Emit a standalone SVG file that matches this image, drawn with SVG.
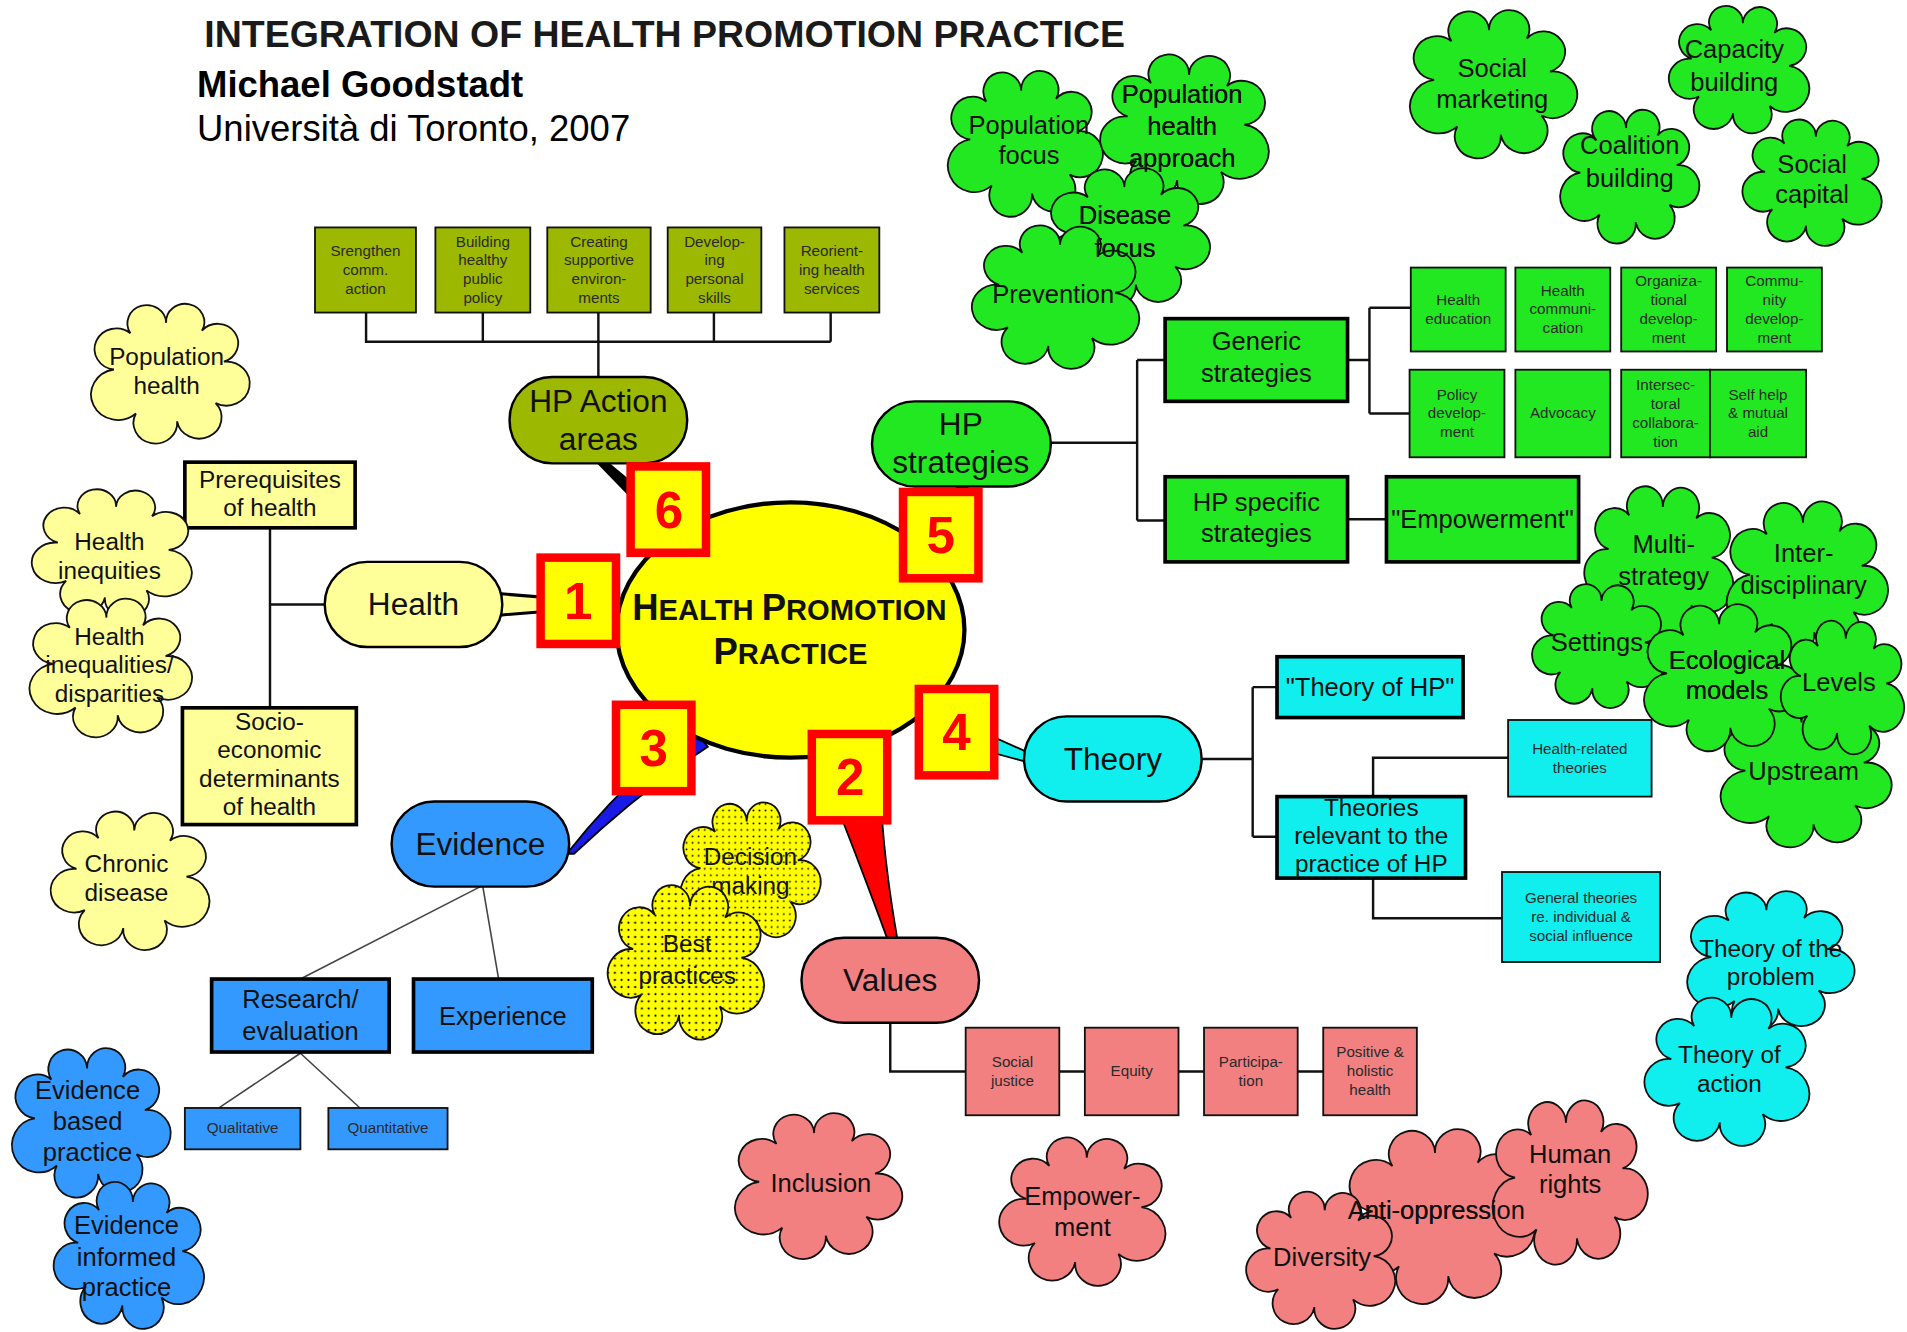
<svg xmlns="http://www.w3.org/2000/svg" xmlns:xlink="http://www.w3.org/1999/xlink" width="1907" height="1332" viewBox="0 0 1907 1332">
<style>
  .t{font-family:"Liberation Sans",Arial,Helvetica,sans-serif;text-anchor:middle;fill:#111}
  .f26{font-size:26px}
  .f21{font-size:21px}
  .f20{font-size:20px}
  .f12{font-size:12.5px;fill:#2a2a2a}
  .node{stroke:#000;stroke-width:2}
  .box{stroke:#000;stroke-width:3}
  .sbox{stroke:#111;stroke-width:1.5}
  .cloud{stroke:#111;stroke-width:1.8}
  .yel{fill:#ffff00}
  .pale{fill:#ffff99}
  .olive{fill:#9cb800}
  .grn{fill:#22e822}
  .cyan{fill:#11eeee}
  .blue{fill:#3399ff}
  .pink{fill:#f28080}
  .dots{fill:url(#dots)}
  .ln{fill:none;stroke:#111;stroke-width:2}
  .ln-thin{fill:none;stroke:#444;stroke-width:1.3}
  .numbox{fill:#ffff00;stroke:#ff0000;stroke-width:7}
  .num{font-family:"Liberation Sans",Arial,sans-serif;font-weight:bold;font-size:42px;fill:#ff0000;text-anchor:middle}
</style>
<defs>
  <!-- irregular cloud outline, about 115 x 108 units around the origin -->
  <path id="cloud" vector-effect="non-scaling-stroke" d="M -41 -3 A 15.9 15.9 0 1 1 -29 -31 A 14.1 14.1 0 1 1 -3 -39 A 13.9 13.9 0 1 1 23 -33 A 15 15 0 1 1 39 -9 A 17 17 0 1 1 33 23 A 16.3 16.3 0 1 1 5 37 A 15.9 15.9 0 1 1 -25 31 A 19.6 19.6 0 1 1 -41 -3 Z"/>
  <pattern id="dots" patternUnits="userSpaceOnUse" width="5" height="5">
    <rect width="5" height="5" fill="#ffff00"/>
    <circle cx="2.5" cy="2.5" r="0.75" fill="#000"/>
  </pattern>
</defs>
<rect width="1907" height="1332" fill="#ffffff"/>
<g transform="scale(1.2162)">

<!-- heading -->
<g id="heading">
  <text x="168" y="39" font-family="Liberation Sans,Arial,sans-serif" font-weight="bold" font-size="30" fill="#1a1a1a" textLength="757" lengthAdjust="spacingAndGlyphs">INTEGRATION OF HEALTH PROMOTION PRACTICE</text>
  <text x="162" y="80" font-family="Liberation Sans,Arial,sans-serif" font-weight="bold" font-size="30" fill="#000">Michael Goodstadt</text>
  <text x="162" y="116" font-family="Liberation Sans,Arial,sans-serif" font-size="30" fill="#000">Università di Toronto, 2007</text>
</g>

<!-- connectors -->
<g id="connectors">
  <!-- tapered links from the centre -->
  <path d="M 410 488 Q 460 493 540 494 L 540 500 Q 460 501 410 506 Z" fill="#ffff99" stroke="#000" stroke-width="2.5"/>
  <path d="M 488 378 L 498 378 L 560 430 L 548 440 Z" fill="#000"/>
  <path d="M 786 398 L 796 398 L 800 440 L 785 440 Z" fill="#000"/>
  <path d="M 770 585 L 846 619 L 846 627 L 765 605 Z" fill="#11eeee" stroke="#000" stroke-width="1.5"/>
  <path d="M 683 650 Q 705 705 730 773 L 738 773 Q 726 705 724 650 Z" fill="#ff0000" stroke="#000" stroke-width="1.5"/>
  <path d="M 570 600 Q 515 640 466 702 L 472 702 Q 525 652 582 614 Z" fill="#1a1ae6" stroke="#000" stroke-width="1.5"/>
  <!-- action areas tree -->
  <path class="ln" d="M 301 257 V 281 H 683 M 397 257 V 281 M 492 257 V 310 M 587 257 V 281 M 683 257 V 281"/>
  <!-- health tree -->
  <path class="ln" d="M 222 434 V 582 M 222 497 H 267"/>
  <!-- strategies tree -->
  <path class="ln" stroke-width="2.5" d="M 864 364 H 935 M 935 296 V 428 M 935 296 H 958 M 935 428 H 958 M 1108 427 H 1140"/>
  <path class="ln" stroke-width="2.5" d="M 1108 296 H 1126 M 1126 253 V 340 M 1126 253 H 1160 M 1126 340 H 1159"/>
  <!-- theory tree -->
  <path class="ln" stroke-width="2.5" d="M 988 624 H 1030 M 1030 565 V 688 M 1030 565 H 1050 M 1030 688 H 1050"/>
  <path class="ln" stroke-width="1.5" d="M 1129 655 V 623 H 1240 M 1129 722 V 755 H 1235"/>
  <!-- values tree -->
  <path class="ln" d="M 732 841 V 881 H 794 M 871 881 H 892 M 969 881 H 990 M 1067 881 H 1088"/>
  <!-- evidence tree -->
  <path class="ln-thin" d="M 395 729 L 247 805 M 397 729 L 410 805 M 247 866 L 180 911 M 247 866 L 296 911"/>
</g>

<!-- central node -->
<g id="node-hpp">
  <ellipse cx="650" cy="518" rx="143" ry="105" fill="#ffff00" stroke="#000" stroke-width="3.5"/>
  <text class="t" font-weight="bold" x="649" y="510" font-size="24"><tspan font-size="30">H</tspan>EALTH <tspan font-size="30">P</tspan>ROMOTION</text>
  <text class="t" font-weight="bold" x="650" y="546" font-size="24"><tspan font-size="30">P</tspan>RACTICE</text>
</g>

<!-- branch nodes -->
<g id="node-action-areas">
  <rect class="node olive" x="419" y="310" width="146" height="71" rx="35"/>
  <text class="t f26" x="492" y="339">HP Action</text>
  <text class="t f26" x="492" y="370">areas</text>
</g>
<g id="node-strategies">
  <rect class="node grn" x="717" y="330" width="147" height="70" rx="35"/>
  <text class="t f26" x="790" y="358">HP</text>
  <text class="t f26" x="790" y="389">strategies</text>
</g>
<g id="node-health">
  <rect class="node pale" x="267" y="462" width="146" height="70" rx="35"/>
  <text class="t f26" x="340" y="506">Health</text>
</g>
<g id="node-evidence">
  <rect class="node blue" x="322" y="659" width="146" height="70" rx="35"/>
  <text class="t f26" x="395" y="703">Evidence</text>
</g>
<g id="node-values">
  <rect class="node pink" x="659" y="771" width="146" height="70" rx="35"/>
  <text class="t f26" x="732" y="815">Values</text>
</g>
<g id="node-theory">
  <rect class="node cyan" x="842" y="589" width="146" height="70" rx="35"/>
  <text class="t f26" x="915" y="633">Theory</text>
</g>

<!-- action areas -->
<g id="aa-1"><rect class="sbox olive" x="259" y="187" width="83" height="70"/>
  <text class="t f12" x="300.5"><tspan x="300.5" y="210.5">Srengthen</tspan><tspan x="300.5" y="226">comm.</tspan><tspan x="300.5" y="241.5">action</tspan></text></g>
<g id="aa-2"><rect class="sbox olive" x="358" y="187" width="78" height="70"/>
  <text class="t f12"><tspan x="397" y="202.8">Building</tspan><tspan x="397" y="218.3">healthy</tspan><tspan x="397" y="233.8">public</tspan><tspan x="397" y="249.3">policy</tspan></text></g>
<g id="aa-3"><rect class="sbox olive" x="450" y="187" width="85" height="70"/>
  <text class="t f12"><tspan x="492.5" y="202.8">Creating</tspan><tspan x="492.5" y="218.3">supportive</tspan><tspan x="492.5" y="233.8">environ-</tspan><tspan x="492.5" y="249.3">ments</tspan></text></g>
<g id="aa-4"><rect class="sbox olive" x="549" y="187" width="77" height="70"/>
  <text class="t f12"><tspan x="587.5" y="202.8">Develop-</tspan><tspan x="587.5" y="218.3">ing</tspan><tspan x="587.5" y="233.8">personal</tspan><tspan x="587.5" y="249.3">skills</tspan></text></g>
<g id="aa-5"><rect class="sbox olive" x="645" y="187" width="78" height="70"/>
  <text class="t f12"><tspan x="684" y="210.5">Reorient-</tspan><tspan x="684" y="226">ing health</tspan><tspan x="684" y="241.5">services</tspan></text></g>

<!-- strategies -->
<g id="st-generic"><rect class="box grn" x="958" y="262" width="150" height="68"/>
  <text class="t f21"><tspan x="1033" y="288">Generic</tspan><tspan x="1033" y="314">strategies</tspan></text></g>
<g id="st-specific"><rect class="box grn" x="958" y="392" width="150" height="70"/>
  <text class="t f21"><tspan x="1033" y="420">HP specific</tspan><tspan x="1033" y="446">strategies</tspan></text></g>
<g id="st-empowerment"><rect class="box grn" x="1140" y="392" width="158" height="70"/>
  <text class="t f21" x="1219" y="434">"Empowerment"</text></g>

<g id="gs-1"><rect class="sbox grn" x="1160" y="220" width="78" height="69"/>
  <text class="t f12"><tspan x="1199" y="250.8">Health</tspan><tspan x="1199" y="266.3">education</tspan></text></g>
<g id="gs-2"><rect class="sbox grn" x="1246" y="220" width="78" height="69"/>
  <text class="t f12"><tspan x="1285" y="243">Health</tspan><tspan x="1285" y="258.5">communi-</tspan><tspan x="1285" y="274">cation</tspan></text></g>
<g id="gs-3"><rect class="sbox grn" x="1333" y="220" width="78" height="69"/>
  <text class="t f12"><tspan x="1372" y="235.3">Organiza-</tspan><tspan x="1372" y="250.8">tional</tspan><tspan x="1372" y="266.3">develop-</tspan><tspan x="1372" y="281.8">ment</tspan></text></g>
<g id="gs-4"><rect class="sbox grn" x="1420" y="220" width="78" height="69"/>
  <text class="t f12"><tspan x="1459" y="235.3">Commu-</tspan><tspan x="1459" y="250.8">nity</tspan><tspan x="1459" y="266.3">develop-</tspan><tspan x="1459" y="281.8">ment</tspan></text></g>
<g id="gs-5"><rect class="sbox grn" x="1159" y="304" width="78" height="72"/>
  <text class="t f12"><tspan x="1198" y="328.5">Policy</tspan><tspan x="1198" y="344">develop-</tspan><tspan x="1198" y="359.5">ment</tspan></text></g>
<g id="gs-6"><rect class="sbox grn" x="1246" y="304" width="78" height="72"/>
  <text class="t f12" x="1285" y="344">Advocacy</text></g>
<g id="gs-7"><rect class="sbox grn" x="1333" y="304" width="73" height="72"/>
  <text class="t f12"><tspan x="1369.5" y="320.8">Intersec-</tspan><tspan x="1369.5" y="336.3">toral</tspan><tspan x="1369.5" y="351.8">collabora-</tspan><tspan x="1369.5" y="367.3">tion</tspan></text></g>
<g id="gs-8"><rect class="sbox grn" x="1406" y="304" width="79" height="72"/>
  <text class="t f12"><tspan x="1445.5" y="328.5">Self help</tspan><tspan x="1445.5" y="344">&amp; mutual</tspan><tspan x="1445.5" y="359.5">aid</tspan></text></g>

<!-- health -->
<g id="h-prereq"><rect class="box pale" x="152" y="380" width="140" height="54"/>
  <text class="t f20"><tspan x="222" y="401">Prerequisites</tspan><tspan x="222" y="424">of health</tspan></text></g>
<g id="h-socio"><rect class="box pale" x="150" y="582" width="143" height="96"/>
  <text class="t f20"><tspan x="221.5" y="600">Socio-</tspan><tspan x="221.5" y="623.5">economic</tspan><tspan x="221.5" y="647">determinants</tspan><tspan x="221.5" y="670.5">of health</tspan></text></g>

<!-- theory -->
<g id="th-hp"><rect class="box cyan" x="1050" y="540" width="153" height="50"/>
  <text class="t f21" x="1126.5" y="572">"Theory of HP"</text></g>
<g id="th-relevant"><rect class="box cyan" x="1050" y="655" width="155" height="67"/>
  <text class="t f20"><tspan x="1127.5" y="671">Theories</tspan><tspan x="1127.5" y="694">relevant to the</tspan><tspan x="1127.5" y="717">practice of HP</tspan></text></g>
<g id="th-health-related"><rect class="sbox cyan" x="1240" y="592" width="118" height="63"/>
  <text class="t f12"><tspan x="1299" y="620">Health-related</tspan><tspan x="1299" y="635.5">theories</tspan></text></g>
<g id="th-general"><rect class="sbox cyan" x="1235" y="717" width="130" height="74"/>
  <text class="t f12"><tspan x="1300" y="742.5">General theories</tspan><tspan x="1300" y="758">re. individual &amp;</tspan><tspan x="1300" y="773.5">social  influence</tspan></text></g>

<!-- evidence -->
<g id="ev-research"><rect class="box blue" x="174" y="805" width="146" height="60"/>
  <text class="t f21"><tspan x="247" y="829">Research/</tspan><tspan x="247" y="855">evaluation</tspan></text></g>
<g id="ev-experience"><rect class="box blue" x="340" y="805" width="147" height="60"/>
  <text class="t f21" x="413.5" y="843">Experience</text></g>
<g id="ev-qual"><rect class="sbox blue" x="152" y="911" width="95" height="34"/>
  <text class="t f12" x="199.5" y="932">Qualitative</text></g>
<g id="ev-quant"><rect class="sbox blue" x="270" y="911" width="98" height="34"/>
  <text class="t f12" x="319" y="932">Quantitative</text></g>

<!-- values -->
<g id="v-justice"><rect class="sbox pink" x="794" y="845" width="77" height="72"/>
  <text class="t f12"><tspan x="832.5" y="877.3">Social</tspan><tspan x="832.5" y="892.8">justice</tspan></text></g>
<g id="v-equity"><rect class="sbox pink" x="892" y="845" width="77" height="72"/>
  <text class="t f12" x="930.5" y="885">Equity</text></g>
<g id="v-participation"><rect class="sbox pink" x="990" y="845" width="77" height="72"/>
  <text class="t f12"><tspan x="1028.5" y="877.3">Participa-</tspan><tspan x="1028.5" y="892.8">tion</tspan></text></g>
<g id="v-holistic"><rect class="sbox pink" x="1088" y="845" width="77" height="72"/>
  <text class="t f12"><tspan x="1126.5" y="869.5">Positive &amp;</tspan><tspan x="1126.5" y="885">holistic</tspan><tspan x="1126.5" y="900.5">health</tspan></text></g>

<!-- clouds: health -->
<g id="c-pop-health"><use href="#cloud" class="cloud pale" transform="translate(140 307) scale(1.13 1.065)"/>
  <text class="t f20"><tspan x="137" y="300">Population</tspan><tspan x="137" y="324">health</tspan></text></g>
<g id="c-inequities"><use href="#cloud" class="cloud pale" transform="translate(92 455) scale(-1.139 0.981)"/>
  <text class="t f20"><tspan x="90" y="452">Health</tspan><tspan x="90" y="476">inequities</tspan></text></g>
<g id="c-inequalities"><use href="#cloud" class="cloud pale" transform="translate(91 549) scale(1.157 1.056)"/>
  <text class="t f20"><tspan x="90" y="530">Health</tspan><tspan x="90" y="553">inequalities/</tspan><tspan x="90" y="577">disparities</tspan></text></g>
<g id="c-chronic"><use href="#cloud" class="cloud pale" transform="translate(107 724) scale(-1.13 1.056)"/>
  <text class="t f20"><tspan x="104" y="717">Chronic</tspan><tspan x="104" y="741">disease</tspan></text></g>

<!-- clouds: evidence -->
<g id="c-ebp"><use href="#cloud" class="cloud blue" transform="translate(75 923) scale(1.13 1.139)"/>
  <text class="t f21"><tspan x="72" y="904">Evidence</tspan><tspan x="72" y="929">based</tspan><tspan x="72" y="955">practice</tspan></text></g>
<g id="c-eip"><use href="#cloud" class="cloud blue" transform="translate(106 1032) scale(-1.07 1.12)"/>
  <text class="t f21"><tspan x="104" y="1015">Evidence</tspan><tspan x="104" y="1041">informed</tspan><tspan x="104" y="1066">practice</tspan></text></g>

<!-- clouds: decision support -->
<g id="c-decision"><use href="#cloud" class="cloud dots" transform="translate(617 717) scale(1.0 1.065)"/>
  <text class="t f20"><tspan x="617" y="711">Decision</tspan><tspan x="617" y="735">making</tspan></text></g>
<g id="c-best"><use href="#cloud" class="cloud dots" transform="translate(564 791) scale(-1.113 1.176)"/>
  <text class="t f20"><tspan x="565" y="783">Best</tspan><tspan x="565" y="809">practices</tspan></text></g>

<!-- clouds: values -->
<g id="c-inclusion"><use href="#cloud" class="cloud pink" transform="translate(673 975) scale(1.191 1.111)"/>
  <text class="t f21" x="675" y="980">Inclusion</text></g>
<g id="c-empowerment"><use href="#cloud" class="cloud pink" transform="translate(890 996) scale(-1.183 1.13)"/>
  <text class="t f21"><tspan x="890" y="991">Empower-</tspan><tspan x="890" y="1016">ment</tspan></text></g>
<g id="c-antiopp"><use href="#cloud" class="cloud pink" transform="translate(1184 1000) scale(1.348 1.333)"/>
  <text id="t-antiopp" class="t f21" x="1181" y="1002">Anti-oppression</text></g>
<g id="c-diversity"><use href="#cloud" class="cloud pink" transform="translate(1086 1036) scale(-1.061 1.046)"/>
  <text class="t f21" x="1087" y="1041">Diversity</text></g>
<g id="c-human-rights"><use href="#cloud" class="cloud pink" transform="translate(1291 972) scale(1.104 1.25)"/>
  <text class="t f21"><tspan x="1291" y="956">Human</tspan><tspan x="1291" y="981">rights</tspan></text></g>

<!-- clouds: theory -->
<g id="c-problem"><use href="#cloud" class="cloud cyan" transform="translate(1456 790) scale(1.191 1.065)"/>
  <text class="t f20"><tspan x="1456" y="787">Theory of the</tspan><tspan x="1456" y="810">problem</tspan></text></g>
<g id="c-action"><use href="#cloud" class="cloud cyan" transform="translate(1420 881) scale(-1.174 1.13)"/>
  <text class="t f20"><tspan x="1422" y="874">Theory of</tspan><tspan x="1422" y="898">action</tspan></text></g>

<!-- clouds: strategies (top) -->
<g id="c-pop-focus"><use href="#cloud" class="cloud grn" transform="translate(843 118) scale(1.104 1.111)"/>
  <text class="t f21"><tspan x="846" y="110">Population</tspan><tspan x="846" y="135">focus</tspan></text></g>
<g id="c-pha"><use href="#cloud" class="cloud grn" transform="translate(974 106) scale(-1.2 1.139)"/>
  <text id="t-pha" class="t f21"><tspan x="972" y="85">Population</tspan><tspan x="972" y="111">health</tspan><tspan x="972" y="137">approach</tspan></text></g>
<g id="c-disease"><use href="#cloud" class="cloud grn" transform="translate(928 195) scale(1.157 1.056)"/>
  <text id="t-disease" class="t f21"><tspan x="925" y="184">Disease</tspan><tspan x="925" y="211">focus</tspan></text></g>
<g id="c-prevention"><use href="#cloud" class="cloud grn" transform="translate(868 244) scale(-1.191 1.093)"/>
  <text class="t f21" x="866" y="249">Prevention</text></g>

<!-- clouds: strategies (upper right) -->
<g id="c-marketing"><use href="#cloud" class="cloud grn" transform="translate(1228 69) scale(1.191 1.13)"/>
  <text class="t f21"><tspan x="1227" y="63">Social</tspan><tspan x="1227" y="89">marketing</tspan></text></g>
<g id="c-capacity"><use href="#cloud" class="cloud grn" transform="translate(1430 57) scale(-1.0 0.972)"/>
  <text class="t f21"><tspan x="1426" y="48">Capacity</tspan><tspan x="1426" y="75">building</tspan></text></g>
<g id="c-coalition"><use href="#cloud" class="cloud grn" transform="translate(1340 145) scale(0.991 1.019)"/>
  <text class="t f21"><tspan x="1340" y="127">Coalition</tspan><tspan x="1340" y="154">building</tspan></text></g>
<g id="c-capital"><use href="#cloud" class="cloud grn" transform="translate(1490 150) scale(-0.991 0.963)"/>
  <text class="t f21"><tspan x="1490" y="142">Social</tspan><tspan x="1490" y="167">capital</tspan></text></g>

<!-- clouds: strategies (right) -->
<g id="c-upstream"><use href="#cloud" class="cloud grn" transform="translate(1485 637) scale(1.217 1.102)"/>
  <text class="t f21" x="1483" y="641">Upstream</text></g>
<g id="c-multi"><use href="#cloud" class="cloud grn" transform="translate(1364 462) scale(-1.061 1.157)"/>
  <text class="t f21"><tspan x="1368" y="455">Multi-</tspan><tspan x="1368" y="481">strategy</tspan></text></g>
<g id="c-inter"><use href="#cloud" class="cloud grn" transform="translate(1486 476) scale(1.148 1.185)"/>
  <text class="t f21"><tspan x="1483" y="462">Inter-</tspan><tspan x="1483" y="488">disciplinary</tspan></text></g>
<g id="c-settings"><use href="#cloud" class="cloud grn" transform="translate(1314 531) scale(-0.939 0.944)"/>
  <text class="t f21" x="1313" y="535">Settings</text></g>
<g id="c-ecological"><use href="#cloud" class="cloud grn" transform="translate(1417 557) scale(1.13 1.12)"/>
  <text id="t-eco" class="t f21"><tspan x="1420" y="550">Ecological</tspan><tspan x="1420" y="575">models</tspan></text></g>
<g id="c-levels"><use href="#cloud" class="cloud grn" transform="translate(1515 565) scale(-0.878 1.019)"/>
  <text class="t f21" x="1512" y="568">Levels</text></g>

<!-- labels that sit across neighbouring clouds are repainted on top -->
<g id="cloud-label-overlay">
  <use href="#t-antiopp"/>
  <use href="#t-pha"/>
  <use href="#t-disease"/>
  <use href="#t-eco"/>
</g>

<!-- numbered markers -->
<g id="marker-1"><rect class="numbox" x="444.5" y="458.5" width="62" height="71"/><text class="num" x="475.5" y="509">1</text></g>
<g id="marker-2"><rect class="numbox" x="667.5" y="603.5" width="62" height="71"/><text class="num" x="699" y="654">2</text></g>
<g id="marker-3"><rect class="numbox" x="506.5" y="579.5" width="62" height="71"/><text class="num" x="537.5" y="630">3</text></g>
<g id="marker-4"><rect class="numbox" x="755.5" y="566.5" width="62" height="71"/><text class="num" x="786.5" y="617">4</text></g>
<g id="marker-5"><rect class="numbox" x="742.5" y="404.5" width="62" height="71"/><text class="num" x="773.5" y="455">5</text></g>
<g id="marker-6"><rect class="numbox" x="518.5" y="383.5" width="62" height="71"/><text class="num" x="550" y="434">6</text></g>

</g>
</svg>
